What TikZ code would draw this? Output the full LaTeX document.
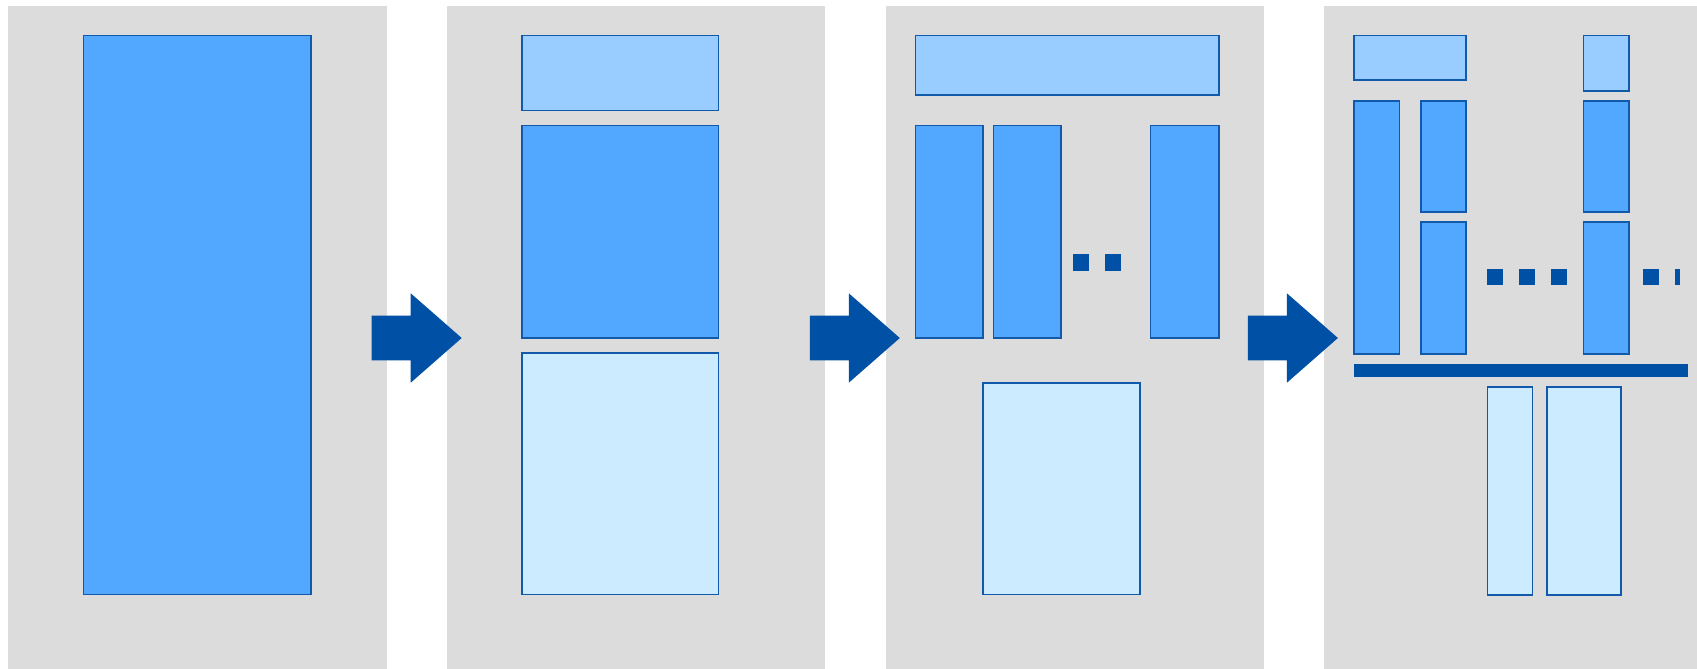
\documentclass[tikz,border=0pt]{standalone}
\usetikzlibrary{positioning}
\definecolor{panelgrey}{HTML}{DCDCDC}
\definecolor{midblue}{HTML}{52A7FF}
\definecolor{lightblue}{HTML}{99CCFF}
\definecolor{paleblue}{HTML}{CCEBFF}
\definecolor{edgeblue}{HTML}{1159AA}
\definecolor{darkblue}{HTML}{0050A5}
\tikzset{
  panel/.style={fill=panelgrey, draw=none},
  midbox/.style={fill=midblue, draw=edgeblue, line width=0.8pt},
  lightbox/.style={fill=lightblue, draw=edgeblue, line width=0.8pt},
  palebox/.style={fill=paleblue, draw=edgeblue, line width=0.8pt},
  dotbox/.style={fill=darkblue, draw=none},
  bigarrow/.style={fill=darkblue, draw=none}
}
\newcommand{\blockarrow}[1]{%
  \fill[bigarrow] (#1+0,315.7) -- (#1+39,315.7) -- (#1+39,293.3) -- (#1+90,338)
    -- (#1+39,382.7) -- (#1+39,360.3) -- (#1+0,360.3) -- cycle;}
\begin{document}
\begin{tikzpicture}[x=0.5pt,y=-0.5pt]
\useasboundingbox (0,0) rectangle (1697,669);
% panels
\fill[panel] (8,5.5) rectangle (386.5,669);
\fill[panel] (447,5.5) rectangle (825,669);
\fill[panel] (885.5,5.5) rectangle (1264,669);
\fill[panel] (1324,5.5) rectangle (1697,669);
% panel 1
\draw[midbox] (83.5,35.5) rectangle (310.8,594.5);
% arrows
\blockarrow{371.7}
\blockarrow{809.8}
\blockarrow{1247.9}
% panel 2
\draw[lightbox] (521.8,35.5) rectangle (718.6,110.5);
\draw[midbox] (521.8,125.5) rectangle (718.6,337.7);
\draw[palebox] (521.8,352.8) rectangle (718.6,594.5);
% panel 3
\draw[lightbox] (915.6,35.5) rectangle (1218.7,95.2);
\draw[midbox] (915.6,125.5) rectangle (982.7,337.7);
\draw[midbox] (993.6,125.5) rectangle (1060.7,337.7);
\draw[midbox] (1150.5,125.5) rectangle (1218.7,337.7);
\fill[dotbox] (1073,254.3) rectangle (1089,270.7);
\fill[dotbox] (1105,254.3) rectangle (1121,270.7);
\draw[palebox] (982.7,383.1) rectangle (1139.7,594.5);
% panel 4
\draw[lightbox] (1354,35.3) rectangle (1465.7,80);
\draw[lightbox] (1583.3,35.3) rectangle (1628.7,90.7);
\draw[midbox] (1354,100.7) rectangle (1399.3,354);
\draw[midbox] (1420.7,100.7) rectangle (1465.7,211.7);
\draw[midbox] (1420.7,221.7) rectangle (1465.7,354);
\draw[midbox] (1583.3,100.7) rectangle (1628.7,211.7);
\draw[midbox] (1583.3,221.7) rectangle (1628.7,354);
\fill[dotbox] (1487.3,269.3) rectangle (1503.3,285);
\fill[dotbox] (1519.3,269.3) rectangle (1535.3,285);
\fill[dotbox] (1551.3,269.3) rectangle (1567.3,285);
\fill[dotbox] (1643.3,269.3) rectangle (1659,285);
\fill[dotbox] (1675,269.3) rectangle (1680,285);
\fill[dotbox] (1354,364) rectangle (1688,377);
\draw[palebox] (1487.3,386.7) rectangle (1532.3,595);
\draw[palebox] (1546.7,386.7) rectangle (1621,595);
\end{tikzpicture}
\end{document}
